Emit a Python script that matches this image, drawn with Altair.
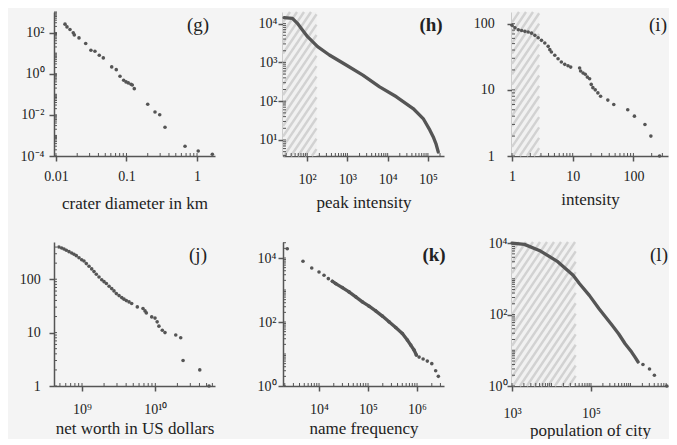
import math
import altair as alt
import pandas as pd

FONT = "Liberation Serif"
INK = "#555555"
TXT = "#222222"

# ---------------- data ----------------
g_x = [0.01343, 0.01433, 0.0158, 0.01758, 0.0182, 0.0212, 0.0264, 0.0313, 0.0357, 0.0411,
       0.0469, 0.0617, 0.0716, 0.0809, 0.0912, 0.0984, 0.106, 0.1159, 0.1208, 0.129,
       0.200, 0.2537, 0.2958, 0.3516, 0.676, 1.04, 1.65]
g_y = [256, 189, 140, 96.7, 77.2, 55.2, 29.2, 13.9, 12.4, 7.94,
       5.87, 2.14, 1.58, 0.755, 0.483, 0.399, 0.357, 0.308, 0.285, 0.188,
       0.0328, 0.0138, 0.0102, 0.0025, 0.000296, 0.000175, 0.000121]

h_x = [26.6, 42.9, 57, 76, 102, 136, 181, 355, 928, 2413, 6310, 16500, 42900, 76300,
       112000, 136000, 158000, 181000]
h_y = [14280, 13700, 10180, 6870, 4610, 3430, 2550, 1553, 857, 472, 235, 130, 64.7, 35.7,
       17.9, 12, 8.1, 4.9]
h_hatch = 170

i_x = [1.0, 1.12, 1.27, 1.44, 1.63, 1.85, 2.10, 2.38, 2.70, 3.06, 3.47, 3.94, 4.20, 4.46,
       5.07, 5.74, 6.50, 7.39, 8.37, 9.27, 13.0, 13.5, 14.8, 16.1, 17.4, 19.0, 20.2, 21.5,
       23.5, 26, 28.8, 37.9, 47.5, 80.7, 104, 155, 194, 270]
i_y = [94.6, 87, 81, 79, 76.7, 75, 72, 66.7, 61.4, 56, 51, 45.5, 40.5, 37.3,
       33.3, 29.6, 26.4, 24.3, 23.2, 22.1, 21.4, 19.3, 18, 17.2, 15.6, 14.7, 12.1, 10.8,
       10, 9, 8, 7, 6, 5, 4, 3, 2, 1]
i_hatch = 2.8

j_x = [4.85e8, 5.28e8, 5.68e8, 6.11e8, 6.65e8, 7.23e8, 7.78e8, 8.36e8, 9.1e8, 9.9e8,
       1.064e9, 1.145e9, 1.246e9, 1.356e9, 1.458e9, 1.568e9, 1.706e9, 1.857e9, 1.997e9, 2.15e9,
       2.34e9, 2.54e9, 2.73e9, 2.94e9, 3.2e9, 3.48e9, 3.74e9, 4.02e9, 4.38e9, 4.76e9,
       5.68e9, 6.79e9, 7.23e9, 7.54e9, 8.93e9, 9.9e9, 1.06e10, 1.12e10, 1.245e10, 1.355e10,
       1.9e10, 2.22e10, 2.39e10, 4.04e10, 5.4e10]
j_y = [402, 385, 368, 348, 328, 310, 293, 276, 253, 232,
       220, 196, 175, 156, 139, 124, 110, 98, 90, 83,
       74, 66.7, 60.4, 53.8, 49.3, 45.3, 42.3, 39.8, 37.6, 35,
       30.3, 28.2, 25.5, 23.4, 19.7, 18.7, 15.9, 13.2, 11.1, 10,
       9, 8, 3, 2, 1]

k_x = [2250, 4710, 7100, 10000, 12650, 15500, 18700, 21900, 29900, 40900, 56100, 76600,
       105000, 143000, 196000, 268000, 367000, 501000, 634000, 743000, 868000, 968000,
       1.1e6, 1.33e6, 1.62e6, 2.0e6, 2.4e6, 2.72e6]
k_y = [19500, 7890, 4880, 3660, 2890, 2264, 1880, 1585, 1190, 873, 610, 426,
       312, 223, 153, 101, 67.5, 43.8, 27.3, 19, 13.3, 9.3,
       8, 7, 6, 5, 3, 2]
k_dense_from, k_dense_to = 6, 22

l_x = [1000, 2060, 5280, 13700, 35300, 51400, 90800, 160000, 234000, 343000, 500000,
       731000, 1.07e6, 1.29e6, 1.56e6]
l_y = [10000, 9200, 5970, 3140, 1250, 728, 344, 145, 85, 49.9, 29, 15.2, 8.9, 6.5, 4.7]
l_tail_x = [2.07e6, 3.03e6, 4.03e6, 8.3e6]
l_tail_y = [4, 3, 2, 1]
l_hatch = 41000

# tick label values
g_xticks, g_yticks = [0.01, 0.1, 1], [1e-4, 1e-2, 1, 1e2]
h_xticks, h_yticks = [1e2, 1e3, 1e4, 1e5], [10, 1e2, 1e3, 1e4]
i_xticks, i_yticks = [1, 10, 100], [1, 10, 100]
j_xticks, j_yticks = [1e9, 1e10], [1, 10, 100]
k_xticks, k_yticks = [1e4, 1e5, 1e6], [1, 1e2, 1e4]
l_xticks, l_yticks = [1e3, 1e5], [1, 1e2, 1e4]

# ---------------- helpers ----------------
SUP = ["\u2070", "\u00b9", "\u00b2", "\u00b3", "\u2074", "\u2075", "\u2076", "\u2077",
       "\u2078", "\u2079", "\u00b9\u2070"]


def pow_expr():
    arr = "[" + ",".join("'%s'" % s for s in SUP) + "]"
    e = "round(log(datum.value)/LN10)"
    return f"{e} < 0 ? '10\u207b' + {arr}[-({e})] : '10' + {arr}[{e}]"


def minor_ticks(lo, hi):
    out = []
    for k in range(math.floor(lo) - 1, math.ceil(hi) + 1):
        for m in range(1, 10):
            v = m * 10.0 ** k
            lv = math.log10(v)
            if lo - 1e-9 <= lv <= hi + 1e-9:
                out.append(v)
    return out


def make_axis(title, values, plain, lp, tp):
    kw = dict(values=values, tickSize=5, labelPadding=lp, grid=False,
              labelOverlap=False, labelFlush=False)
    if title:
        kw["title"] = title
        kw["titlePadding"] = tp
    else:
        kw["title"] = None
    if plain:
        kw["format"] = "~g"
    else:
        kw["labelExpr"] = pow_expr()
    return alt.Axis(**kw)


def stripe_frame(xd, yd, W, H, hx, spacing=7.0, angle=56):
    a, b = xd
    c, d = yd
    HX = (math.log10(hx) - a) / (b - a) * W
    t = math.tan(math.radians(angle))
    rows = []
    s = -H / t
    while s < HX:
        x0 = max(0.0, s)
        x1 = min(HX, s + H / t)
        if x1 > x0:
            y0 = t * (x0 - s)
            y1 = t * (x1 - s)
            rows.append(dict(
                xa=10 ** (a + x0 / W * (b - a)), ya=10 ** (c + y0 / H * (d - c)),
                xb=10 ** (a + x1 / W * (b - a)), yb=10 ** (c + y1 / H * (d - c))))
        s += spacing
    return pd.DataFrame(rows)


def panel(W, H, xd, yd, xaxis, yaxis, tag, tagx, bold=False,
          pts=None, line=None, hatch=None):
    xs = alt.Scale(type="log", domain=[10 ** xd[0], 10 ** xd[1]], nice=False)
    ys = alt.Scale(type="log", domain=[10 ** yd[0], 10 ** yd[1]], nice=False)

    def X(f):
        return alt.X(f, scale=xs, axis=xaxis)

    def Y(f):
        return alt.Y(f, scale=ys, axis=yaxis)

    layers = []
    if hatch is not None:
        hr = pd.DataFrame({"x1": [10 ** xd[0]], "x2": [hatch],
                           "y1": [10 ** yd[0]], "y2": [10 ** yd[1]]})
        layers.append(alt.Chart(hr).mark_rect(fill="#f1f1f1").encode(
            x=X("x1:Q"), x2="x2:Q", y=Y("y1:Q"), y2="y2:Q"))
        sf = stripe_frame(xd, yd, W, H, hatch)
        layers.append(alt.Chart(sf).mark_rule(color="#d2d2d2", strokeWidth=2.4).encode(
            x=X("xa:Q"), x2="xb:Q", y=Y("ya:Q"), y2="yb:Q"))
    # inward minor ticks
    my = pd.DataFrame({"v": minor_ticks(*yd)})
    layers.append(alt.Chart(my).mark_rule(color=INK, strokeWidth=1).encode(
        y=Y("v:Q"), x=alt.value(0), x2=alt.value(3)))
    mx = pd.DataFrame({"v": minor_ticks(*xd)})
    layers.append(alt.Chart(mx).mark_rule(color=INK, strokeWidth=1).encode(
        x=X("v:Q"), y=alt.value(H), y2=alt.value(H - 3)))
    if line is not None:
        ld = pd.DataFrame({"x": line[0], "y": line[1]})
        layers.append(alt.Chart(ld).mark_line(color=INK, strokeWidth=3.3,
                                              strokeJoin="round", strokeCap="round").encode(
            x=X("x:Q"), y=Y("y:Q"), order="x:Q"))
    if pts is not None:
        pdf = pd.DataFrame({"x": pts[0], "y": pts[1]})
        layers.append(alt.Chart(pdf).mark_circle(size=13, color=INK, opacity=1).encode(
            x=X("x:Q"), y=Y("y:Q")))
    td = pd.DataFrame({"t": [tag]})
    layers.append(alt.Chart(td).mark_text(font=FONT, fontSize=19, color=TXT,
                                          fontWeight="bold" if bold else "normal",
                                          align="center", baseline="middle").encode(
        x=alt.value(tagx), y=alt.value(13), text="t:N"))
    return alt.layer(*layers).properties(width=W, height=H)


H = 144
g = panel(161, H, (-2.028, 0.255), (-4, 3.0),
          make_axis("crater diameter in km", g_xticks, True, 8.6, 11.6),
          make_axis(None, g_yticks, False, 5, 0), "(g)", 144,
          pts=(g_x, g_y))
h = panel(161, H, (1.398, 5.40), (0.587, 4.30),
          make_axis("peak intensity", h_xticks, False, 11.6, 7.6),
          make_axis(None, h_yticks, False, 1, 0), "(h)", 148, bold=True,
          line=(h_x, h_y), hatch=h_hatch)
i = panel(156, H, (0, 2.57), (0, 2.177),
          make_axis("intensity", i_xticks, True, 8.6, 7.9),
          make_axis(None, i_yticks, True, 12.7, 0), "(i)", 146,
          pts=(i_x, i_y), hatch=i_hatch)
j = panel(161, H, (8.618, 10.814), (0, 2.697),
          make_axis("net worth in US dollars", j_xticks, False, 11.6, 3.6),
          make_axis(None, j_yticks, True, 8.7, 0), "(j)", 144,
          pts=(j_x, j_y))
k = panel(161, H, (3.265, 6.55), (0, 4.5),
          make_axis("name frequency", k_xticks, False, 11.6, 3.6),
          make_axis(None, k_yticks, False, 2, 0), "(k)", 151, bold=True,
          pts=(k_x, k_y), line=(k_x[k_dense_from:k_dense_to], k_y[k_dense_from:k_dense_to]))
l = panel(156, H, (3, 6.95), (0, 4.03),
          make_axis("population of city", l_xticks, False, 15.6, 1.9),
          make_axis(None, l_yticks, False, 0, 0), "(l)", 147,
          pts=(l_tail_x, l_tail_y), line=(l_x, l_y), hatch=l_hatch)

chart = alt.concat(g, h, i, j, k, l, columns=3,
                   spacing=alt.RowColnumber(row=86, column=68), bounds="flush").properties(
    padding={"left": 11, "top": 2, "right": 0, "bottom": 0}
).configure(background="#f4f4f4").configure_view(stroke=None).configure_axis(
    domainColor=INK, domainWidth=1.5, tickColor=INK, tickWidth=1.5,
    labelFont=FONT, labelFontSize=14, labelColor=TXT,
    titleFont=FONT, titleFontSize=17, titleFontWeight="normal", titleColor=TXT)

chart.save("out.html", embed_options={"renderer": "svg", "actions": False})
